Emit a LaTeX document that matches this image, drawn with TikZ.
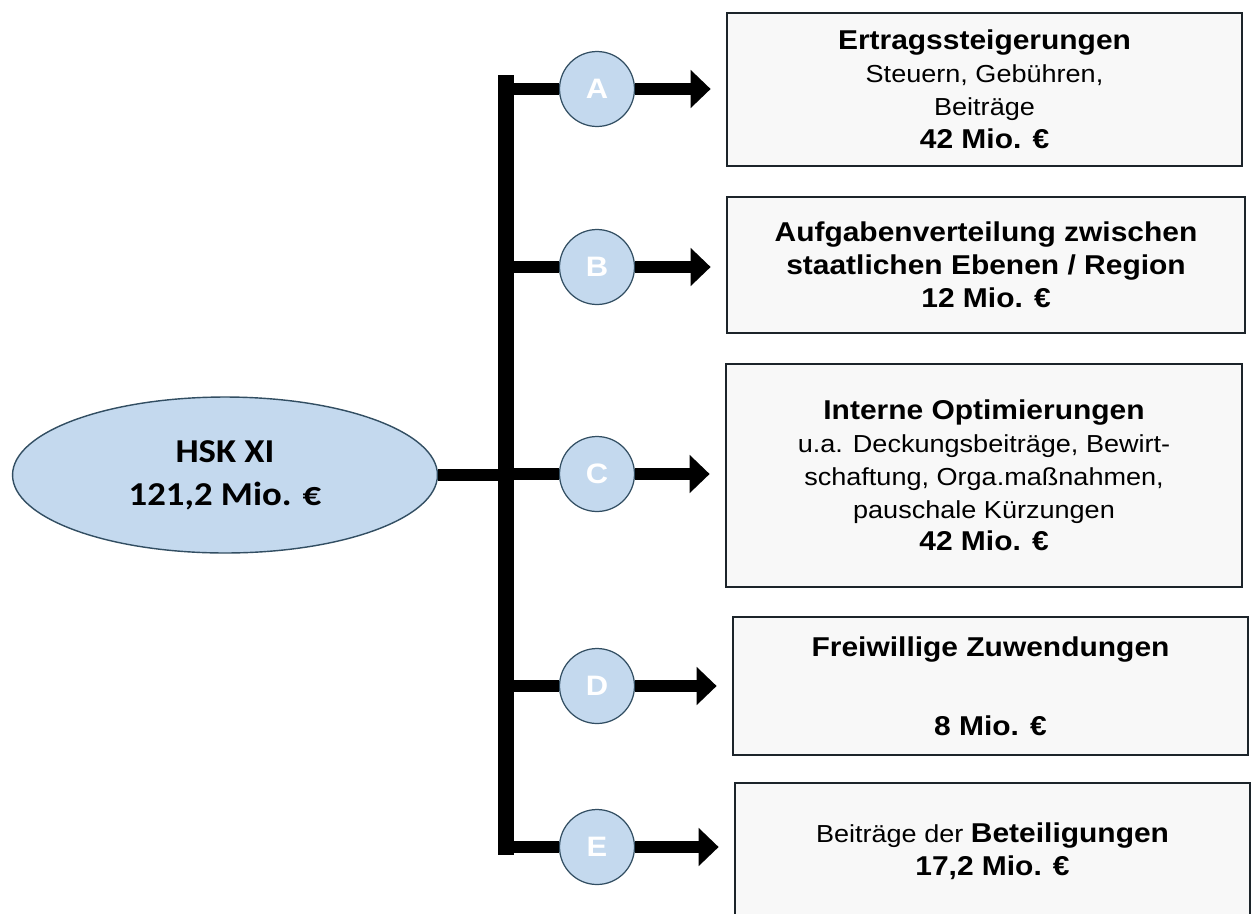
\documentclass[tikz,border=0pt]{standalone}
\usepackage{fontspec}
\setmainfont{Liberation Sans}[FakeStretch=1.1]
\newfontfamily\calfont{Carlito}[FakeStretch=1.1]
\usetikzlibrary{arrows.meta,shapes.geometric}
\tikzset{>={Triangle[length=.4cm, width=.74cm]}}
\definecolor{clb}{RGB}{196,217,238}
\definecolor{clr}{RGB}{50,78,98}
\definecolor{clx}{RGB}{248,248,248}
\definecolor{cld}{RGB}{28,36,42}
\tikzset{
    sumnode/.style={ellipse, draw=clr, line width=.8pt, fill=clb, inner sep=0pt, minimum width=8.5cm, minimum height=3.12cm, align=center, font=\calfont\bfseries\fontsize{19}{24.4}\selectfont},
    lettnode/.style={circle, draw=clr, line width=.7pt, fill=clb, inner sep=0pt, minimum size=1.5cm, text=white, font=\bfseries\fontsize{16}{18}\selectfont},
    boxnode/.style={draw=cld, line width=1.6pt, fill=clx, inner sep=2pt, minimum width=10.3cm, align=center, font=\fontsize{14}{18.7}\selectfont},
    trunkline/.style={line width=9pt},
    branchline/.style={line width=6.8pt},
    arrline/.style={line width=6.8pt, ->, shorten >=.3cm}
}
\newcommand*{\ttl}[1]{{\bfseries\fontsize{15.5}{18.7}\selectfont #1}}
\begin{document}
\begin{tikzpicture}[x=.02cm, y=-.02cm]
    \useasboundingbox(0, 0) rectangle(1253, 913);
    \clip(0, 0) rectangle(1253, 913);
    \fill[white](0, 0) rectangle(1253, 913);
    \node[sumnode](hsk) at(225, 475){HSK XI\\121,2 Mio. €};
    \coordinate(top) at(506, 75);
    \coordinate(bot) at(506, 855);
    \coordinate(mid) at(506, 475);
    \draw[trunkline](top)--(bot);
    \draw[branchline](hsk.east)--(mid);
    \node[lettnode](cA) at(597, 89){A};
    \node[lettnode](cB) at(597, 267){B};
    \node[lettnode](cC) at(597, 474){C};
    \node[lettnode](cD) at(597, 686){D};
    \node[lettnode](cE) at(597, 847){E};
    \node[boxnode, minimum height=3.06cm](bA) at(984.5, 89.5){\ttl{Ertragssteigerungen}\\Steuern, Gebühren,\\Beiträge\\\ttl{42 Mio. €}};	%A
    \node[boxnode, minimum width=10.36cm, minimum height=2.72cm](bB) at(986, 265){\ttl{Aufgabenverteilung zwischen}\\\ttl{staatlichen Ebenen / Region}\\\ttl{12 Mio. €}};	%B
    \node[boxnode, minimum width=10.32cm, minimum height=4.46cm](bC) at(984, 475.5){\ttl{Interne Optimierungen}\\u.a. Deckungsbeiträge, Bewirt-\\schaftung, Orga.maßnahmen,\\pauschale Kürzungen\\\ttl{42 Mio. €}};	%C
    \node[boxnode, minimum height=2.76cm](bD) at(990.5, 686){\ttl{Freiwillige Zuwendungen}\\[26pt]\ttl{8 Mio. €}};	%D
    \node[boxnode, minimum height=2.72cm](bE) at(992.5, 851){Beiträge der \ttl{Beteiligungen}\\\ttl{17,2 Mio. €}};	%E
    \draw[branchline](cA-|top)--(cA.west);
    \draw[branchline](cB-|top)--(cB.west);
    \draw[branchline](cC-|top)--(cC.west);
    \draw[branchline](cD-|top)--(cD.west);
    \draw[branchline](cE-|top)--(cE.west);
    \draw[arrline](cA.east)--(cA-|bA.west);
    \draw[arrline](cB.east)--(cB-|bB.west);
    \draw[arrline](cC.east)--(cC-|bC.west);
    \draw[arrline](cD.east)--(cD-|bD.west);
    \draw[arrline](cE.east)--(cE-|bE.west);
\end{tikzpicture}
\end{document}
